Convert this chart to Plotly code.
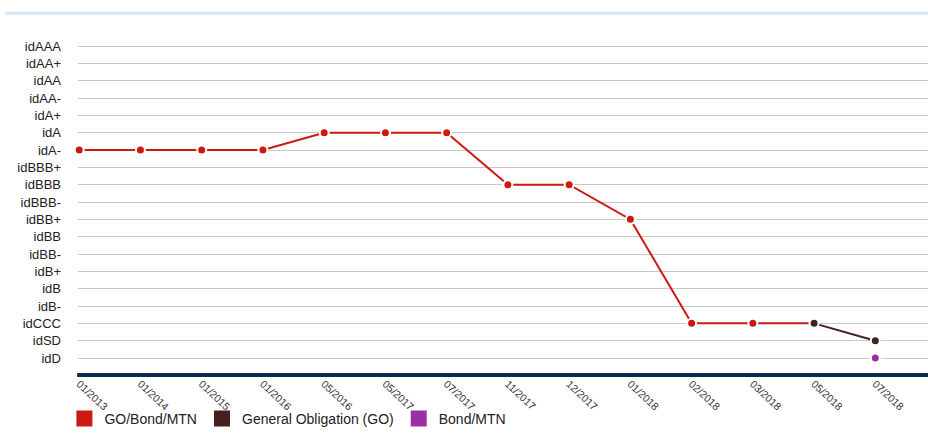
import plotly.graph_objects as go

dates = ["01/2013", "01/2014", "01/2015", "01/2016", "05/2016", "05/2017", "07/2017",
         "11/2017", "12/2017", "01/2018", "02/2018", "03/2018", "05/2018", "07/2018"]
ratings = ["idD", "idSD", "idCCC", "idB-", "idB", "idB+", "idBB-", "idBB", "idBB+",
           "idBBB-", "idBBB", "idBBB+", "idA-", "idA", "idA+", "idAA-", "idAA", "idAA+", "idAAA"]

go_bond_mtn_dates = dates[:13]
go_bond_mtn = ["idA-", "idA-", "idA-", "idA-", "idA", "idA", "idA",
               "idBBB", "idBBB", "idBB+", "idCCC", "idCCC", "idCCC"]
general_obligation_dates = ["05/2018", "07/2018"]
general_obligation = ["idCCC", "idSD"]
bond_mtn_dates = ["07/2018"]
bond_mtn = ["idD"]

rank = {r: i for i, r in enumerate(ratings)}
xi = {d: i for i, d in enumerate(dates)}

fig = go.Figure()

def add_series(name, xs, ys, color):
    fig.add_trace(go.Scatter(
        x=[xi[d] for d in xs], y=[rank[r] for r in ys],
        mode="lines+markers", name=name, showlegend=False,
        line=dict(color=color, width=2),
        marker=dict(color=color, size=9, line=dict(color="white", width=2)),
        cliponaxis=False,
    ))
    fig.add_trace(go.Scatter(
        x=[None], y=[None], mode="markers", name=name, showlegend=True,
        marker=dict(color=color, size=22, symbol="square"),
    ))

add_series("GO/Bond/MTN", go_bond_mtn_dates, go_bond_mtn, "#cc1a12")
add_series("General Obligation (GO)", general_obligation_dates, general_obligation, "#45201f")
add_series("Bond/MTN", bond_mtn_dates, bond_mtn, "#9b2fa6")

fig.update_layout(
    width=928, height=435,
    margin=dict(l=78, r=0, t=40, b=60),
    paper_bgcolor="white", plot_bgcolor="white",
    font=dict(family="Liberation Sans, Arial", size=12, color="#222"),
    xaxis=dict(
        range=[-0.02, 13.86], tickmode="array",
        tickvals=list(range(len(dates))), ticktext=dates,
        tickangle=43, showgrid=False, zeroline=False, automargin=False,
        showline=False, ticks="", tickfont=dict(size=10.5, color="#333"),
    ),
    yaxis=dict(
        range=[-0.98, 18.35], tickmode="array",
        tickvals=list(range(len(ratings))), ticktext=ratings, automargin=False,
        showgrid=True, gridcolor="#c8c8c8", gridwidth=1, zeroline=False,
        ticks="", ticklabelstandoff=16, tickfont=dict(size=13, color="#222"),
    ),
    legend=dict(
        orientation="h", x=-0.016, xanchor="left",
        yref="container", y=0.074, yanchor="top",
        bgcolor="rgba(0,0,0,0)",
        font=dict(size=14, color="#222"), itemwidth=30, tracegroupgap=0,
    ),
    shapes=[
        dict(type="line", xref="paper", yref="paper", x0=-0.086, x1=1.0,
             y0=1.08, y1=1.08, line=dict(color="#d6e4f2", width=3)),
        dict(type="line", xref="paper", yref="paper", x0=-0.001, x1=1.0,
             y0=0, y1=0, line=dict(color="#0d2a4f", width=4)),
    ],
)

fig.write_html("out.html")
